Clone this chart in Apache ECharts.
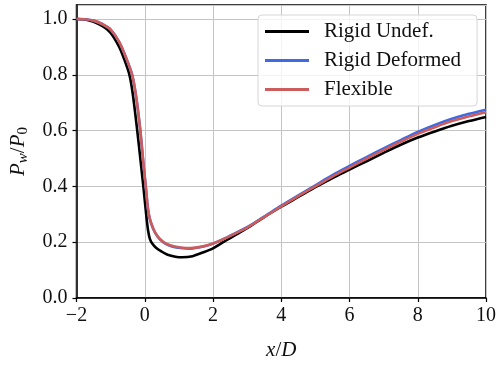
<!DOCTYPE html>
<html>
<head>
<meta charset="utf-8">
<script src="https://cdn.jsdelivr.net/npm/echarts@6/dist/echarts.min.js"></script>
<style>
  html, body { margin: 0; padding: 0; background: #fff; }
  #main { width: 500px; height: 366px; }
</style>
</head>
<body>
<div id="main"></div>
<script>
var myChart = echarts.init(document.getElementById("main"));

// x/D positions and P_w/P_0
var xUndef = [-2, -1.75, -1.5, -1.25, -1.0, -0.75, -0.6, -0.45, -0.35, -0.22, -0.13, -0.05, 0.0, 0.05, 0.1, 0.15, 0.22, 0.33, 0.5, 0.67, 0.9, 1.1, 1.4, 1.7, 2.0, 2.3, 2.6, 3.0, 3.5, 4.0, 4.5, 5.0, 5.5, 6.0, 6.5, 7.0, 7.5, 8.0, 8.5, 9.0, 9.5, 10];
var yUndef = [1.0, 0.998, 0.99, 0.975, 0.95, 0.9, 0.855, 0.8, 0.73, 0.6, 0.5, 0.41, 0.35, 0.29, 0.24, 0.212, 0.195, 0.18, 0.166, 0.155, 0.148, 0.146, 0.15, 0.163, 0.178, 0.2, 0.222, 0.25, 0.29, 0.327, 0.362, 0.397, 0.43, 0.46, 0.49, 0.52, 0.549, 0.575, 0.597, 0.617, 0.634, 0.649];

var xFlex = [-2, -1.75, -1.5, -1.25, -1.0, -0.75, -0.55, -0.37, -0.25, -0.13, -0.03, 0.03, 0.08, 0.12, 0.19, 0.3, 0.43, 0.6, 0.82, 1.05, 1.35, 1.7, 2.0, 2.5, 3.0, 3.5, 4.0, 4.5, 5.0, 5.5, 6.0, 6.5, 7.0, 7.5, 8.0, 8.5, 9.0, 9.5, 10];
var yFlex = [1.0, 0.999, 0.994, 0.982, 0.962, 0.918, 0.862, 0.8, 0.72, 0.6, 0.47, 0.4, 0.335, 0.3, 0.268, 0.236, 0.214, 0.197, 0.186, 0.181, 0.179, 0.185, 0.195, 0.222, 0.252, 0.29, 0.328, 0.365, 0.4, 0.435, 0.467, 0.499, 0.53, 0.56, 0.588, 0.612, 0.634, 0.651, 0.666];
var yDeformed = [1.0, 0.999, 0.994, 0.982, 0.962, 0.918, 0.862, 0.8, 0.72, 0.6, 0.47, 0.4, 0.335, 0.298, 0.266, 0.234, 0.212, 0.195, 0.184, 0.179, 0.177, 0.184, 0.195, 0.223, 0.254, 0.292, 0.331, 0.368, 0.404, 0.44, 0.473, 0.505, 0.536, 0.566, 0.595, 0.62, 0.642, 0.66, 0.675];

var seriesNames = ['Rigid Undef.', 'Rigid Deformed', 'Flexible'];
var seriesColors = ['#000000', '#4169e1', '#cd5c5c'];

function pairs(xs, ys) {
    return xs.map(function (x, i) { return [x, ys[i]]; });
}

var font = 'Liberation Serif';

function lineSeries(i, xs, ys) {
    return {
        name: seriesNames[i],
        type: 'line',
        smooth: 0.3,
        symbol: 'none',
        data: pairs(xs, ys),
        lineStyle: { color: seriesColors[i], width: 2.6 },
        itemStyle: { color: seriesColors[i] },
        z: 3 + i
    };
}

var option = {
    backgroundColor: '#fff',
    animation: false,
    grid: {
        left: 75,
        right: 14,
        top: 5,
        bottom: 68,
        show: true,
        borderColor: '#000',
        borderWidth: 1.5,
        backgroundColor: 'transparent'
    },
    legend: {
        data: seriesNames,
        orient: 'vertical',
        left: 258,
        top: 15,
        icon: 'rect',
        itemWidth: 44,
        itemHeight: 3,
        itemGap: 8,
        padding: [6, 16, 6, 7],
        backgroundColor: 'rgba(255,255,255,0.8)',
        borderColor: '#d6d6d6',
        borderWidth: 1,
        borderRadius: 4,
        textStyle: { fontFamily: font, fontSize: 21, color: '#111', padding: [0, 0, 0, 10] }
    },
    xAxis: {
        type: 'value',
        min: -2,
        max: 10,
        interval: 2,
        name: '{it|x}/{it|D}',
        nameLocation: 'middle',
        nameGap: 42,
        nameTextStyle: {
            fontFamily: font, fontSize: 21, color: '#111',
            rich: { it: { fontFamily: font, fontSize: 21, fontStyle: 'italic', color: '#111' } }
        },
        axisLine: { show: true, onZero: false, lineStyle: { color: '#000', width: 1.5 } },
        axisTick: { show: true, inside: false, length: 4, lineStyle: { color: '#000', width: 1.2 } },
        axisLabel: {
            margin: 8,
            fontFamily: font, fontSize: 20, color: '#111',
            formatter: function (v) { return String(v).replace('-', '\u2212'); }
        },
        splitLine: { show: true, lineStyle: { color: '#c4c4c4', width: 1 } }
    },
    yAxis: {
        type: 'value',
        min: 0,
        max: 1.05,
        interval: 0.2,
        name: '{it|P}{sub|w}/{it|P}{sub0|0}',
        nameLocation: 'middle',
        nameGap: 46,
        nameRotate: 90,
        nameTextStyle: {
            fontFamily: font, fontSize: 21, color: '#111',
            rich: {
                it: { fontFamily: font, fontSize: 21, fontStyle: 'italic', color: '#111', lineHeight: 24 },
                sub: { fontFamily: font, fontSize: 15, fontStyle: 'italic', color: '#111', verticalAlign: 'bottom', lineHeight: 24, padding: [7, 0, 0, 0] },
                sub0: { fontFamily: font, fontSize: 15, color: '#111', verticalAlign: 'bottom', lineHeight: 24, padding: [7, 0, 0, 0] }
            }
        },
        axisLine: { show: true, onZero: false, lineStyle: { color: '#000', width: 1.5 } },
        axisTick: { show: true, inside: false, length: 4, lineStyle: { color: '#000', width: 1.2 } },
        axisLabel: {
            margin: 9,
            showMaxLabel: false,
            fontFamily: font, fontSize: 20, color: '#111',
            formatter: function (v) {
                if (Math.abs(v * 5 - Math.round(v * 5)) > 1e-6) return '';
                return v.toFixed(1);
            }
        },
        splitLine: { show: true, lineStyle: { color: '#c4c4c4', width: 1 } }
    },
    series: [
        lineSeries(0, xUndef, yUndef),
        lineSeries(1, xFlex, yDeformed),
        lineSeries(2, xFlex, yFlex)
    ]
};

myChart.setOption(option);
</script>
</body>
</html>
